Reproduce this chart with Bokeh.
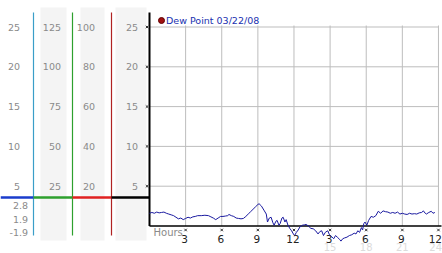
from bokeh.plotting import figure
from bokeh.models import Range1d
from bokeh.core.properties import value
from bokeh.embed import file_html
from bokeh.resources import INLINE

# ---------------- data ----------------
dew_hours = [0.0, 0.2, 0.4, 0.6, 0.8, 1.0, 1.2, 1.4, 1.6, 1.8, 2.0, 2.2, 2.4, 2.6, 2.8,
             3.0, 3.2, 3.4, 3.6, 3.8, 4.0, 4.3, 4.6, 4.9, 5.1, 5.3, 5.5, 5.7, 5.9, 6.1,
             6.3, 6.5, 6.6, 6.8, 7.0, 7.2, 7.4, 7.6, 7.8, 8.0, 8.2, 8.4, 8.6, 8.8, 9.0,
             9.1, 9.3, 9.5, 9.7, 9.8, 9.95, 10.1, 10.25, 10.35, 10.5, 10.6, 10.75, 10.85,
             11.0, 11.1, 11.25, 11.35, 11.5, 11.65, 11.8, 11.95, 12.05, 12.2, 12.35, 12.5,
             12.7, 12.9, 13.0, 13.2, 13.4, 13.6, 13.8, 14.0, 14.15, 14.3, 14.45, 14.6,
             14.8, 14.95, 15.1, 15.3, 15.45, 15.6, 15.8, 15.9, 16.05, 16.2, 16.4, 16.6,
             16.8, 17.0, 17.15, 17.3, 17.45, 17.6, 17.7, 17.8, 17.9, 18.05, 18.2, 18.4,
             18.6, 18.8, 19.0, 19.2, 19.4, 19.6, 19.8, 20.0, 20.2, 20.4, 20.6, 20.8, 21.0,
             21.2, 21.4, 21.6, 21.8, 22.0, 22.2, 22.4, 22.6, 22.75, 22.9, 23.0, 23.2,
             23.4, 23.55, 23.7]
dew_values = [1.6, 1.7, 1.6, 1.75, 1.65, 1.7, 1.75, 1.6, 1.5, 1.4, 1.3, 1.1, 0.9, 1.0, 0.8,
              0.95, 1.1, 1.0, 1.15, 1.2, 1.3, 1.3, 1.35, 1.3, 1.15, 1.0, 0.8, 1.0, 1.2, 1.2,
              1.25, 1.3, 1.45, 1.3, 1.2, 1.0, 0.95, 0.9, 0.95, 1.2, 1.5, 1.8, 2.1, 2.4, 2.7,
              2.8, 2.5, 2.0, 1.5, 0.5, 1.0, 1.1, 0.4, 0.1, 0.6, 0.7, 0.1, 0.3,
              1.0, 1.1, 0.5, 0.8, 0.1, -0.3, -0.6, -1.0, -1.2, -0.8, -0.5, -0.1,
              0.1, 0.15, 0.2, 0.0, -0.3, -0.35, -0.6, -1.0, -0.7, -0.6, -1.2, -0.8,
              -0.6, -1.1, -1.3, -1.6, -1.2, -1.4, -1.7, -1.9, -1.6, -1.5, -1.4, -1.2,
              -1.1, -0.9, -1.0, -0.6, -0.8, -0.2, -0.5, 0.3, 0.5, 0.1, 0.7, 1.2,
              1.1, 1.3, 1.85, 1.6, 1.9, 1.8, 1.75, 1.6, 1.7, 1.6, 1.75, 1.5, 1.6,
              1.5, 1.45, 1.6, 1.5, 1.55, 1.5, 1.65, 1.7, 1.9, 1.6, 1.5, 1.7,
              1.85, 1.6, 1.7]

grid_values = [25, 20, 15, 10, 5]
col1_labels = ["25", "20", "15", "10", "5"]
col2_labels = ["125", "100", "75", "50", "25"]
col3_labels = ["100", "80", "60", "40", "20"]
col4_labels = ["25", "20", "15", "10", "5"]
stat_labels = ["2.8", "1.9", "-1.9"]
hour_ticks = [3, 6, 9, 12, 15, 18, 21, 24]
hour_labels = ["3", "6", "9", "12", "3", "6", "9", "12"]
faint_ticks = [15, 18, 21, 24]
faint_labels = ["15", "18", "21", "24"]
legend_text = "Dew Point 03/22/08"

# ---------------- geometry helpers (pixel -> data) ----------------
W, H = 442, 253
X0PX, PXH = 149.0, 12.04
Y0PX, PXV = 225.5, 7.96


def dx(px):
    return (px - X0PX) / PXH


def dy(py):
    return (Y0PX - py) / PXV


p = figure(width=W, height=H, output_backend="svg", toolbar_location=None,
           x_range=Range1d(dx(0), dx(W)), y_range=Range1d(dy(H), dy(0)),
           x_axis_type=None, y_axis_type=None, min_border=0,
           outline_line_color=None, background_fill_color="white",
           border_fill_color="white")
p.grid.visible = False

FONT = value("DejaVu Sans")
GRAY = "#8a8a8a"

# gray column bands
band_l = [dx(40), dx(80), dx(115)]
band_r = [dx(66), dx(104), dx(146)]
p.quad(left=band_l, right=band_r, top=[dy(7)] * 3, bottom=[dy(240)] * 3,
       fill_color="#f4f4f4", line_color=None)

# grid
p.segment(x0=[0] * len(grid_values), x1=[24] * len(grid_values),
          y0=grid_values, y1=grid_values, line_color="#bdbdbd", line_width=1)
p.segment(x0=hour_ticks, x1=hour_ticks, y0=[dy(25)] * len(hour_ticks),
          y1=[0] * len(hour_ticks), line_color="#bdbdbd", line_width=1)

# coloured column rules
col_x = [dx(33), dx(72), dx(111)]
col_c = ["#3a9ec8", "#2ea02e", "#b02222"]
p.segment(x0=col_x, x1=col_x, y0=[dy(12)] * 3, y1=[dy(235)] * 3,
          line_color=col_c, line_width=1.2)
hx0 = [dx(0), dx(33), dx(72), dx(111)]
hx1 = [dx(33), dx(72), dx(111), dx(149)]
p.segment(x0=hx0, x1=hx1, y0=[dy(197)] * 4, y1=[dy(197)] * 4,
          line_color=["#1a3ccc", "#2ea02e", "#e02020", "#000000"], line_width=2.5)

# black axes
p.segment(x0=[0], x1=[0], y0=[dy(12)], y1=[dy(225.5)], line_color="black", line_width=2)
p.segment(x0=[0], x1=[dx(441)], y0=[0], y1=[0], line_color="black", line_width=1.5)

# data line
p.line(dew_hours, dew_values, line_color="#1a1aa0", line_width=1)

# tick markers
p.scatter(x=[dx(146.5)] * len(grid_values), y=grid_values, marker="x", size=3.5,
          line_color="#333333", line_width=1)
p.scatter(x=hour_ticks, y=[dy(229.5)] * len(hour_ticks), marker="x", size=3.5,
          line_color="#333333", line_width=1)

# left labels
n = len(grid_values)
p.text(x=[dx(19.5)] * n, y=grid_values, text=col1_labels, text_font=FONT,
       text_font_size="9.5px", text_color=GRAY, text_align="right", text_baseline="middle")
p.text(x=[dx(60.5)] * n, y=grid_values, text=col2_labels, text_font=FONT,
       text_font_size="9.5px", text_color=GRAY, text_align="right", text_baseline="middle")
p.text(x=[dx(94.5)] * n, y=grid_values, text=col3_labels, text_font=FONT,
       text_font_size="9.5px", text_color=GRAY, text_align="right", text_baseline="middle")
p.text(x=[dx(137.5)] * n, y=grid_values, text=col4_labels, text_font=FONT,
       text_font_size="9.5px", text_color=GRAY, text_align="right", text_baseline="middle")
p.text(x=[dx(27.5)] * 3, y=[dy(205), dy(219), dy(232)], text=stat_labels, text_font=FONT,
       text_font_size="9.5px", text_color=GRAY, text_align="right", text_baseline="middle")

# x labels (last one right-aligned so it stays inside the window)
p.text(x=[t - 0.08 for t in hour_ticks[:-1]], y=[dy(238.5)] * (len(hour_ticks) - 1),
       text=hour_labels[:-1], text_font=FONT, text_font_size="10.5px",
       text_color="#222222", text_align="center", text_baseline="middle")
p.text(x=[dx(441.5)], y=[dy(238.5)], text=hour_labels[-1:], text_font=FONT,
       text_font_size="10.5px", text_color="#222222", text_align="right",
       text_baseline="middle")
p.text(x=faint_ticks[:-1], y=[dy(246.5)] * (len(faint_ticks) - 1), text=faint_labels[:-1],
       text_font=FONT, text_font_size="10px", text_color="#dcdcdc",
       text_align="center", text_baseline="middle")
p.text(x=[dx(441.5)], y=[dy(246.5)], text=faint_labels[-1:],
       text_font=FONT, text_font_size="10px", text_color="#dcdcdc",
       text_align="right", text_baseline="middle")
p.text(x=[dx(153)], y=[dy(232)], text=["Hours"], text_font=FONT, text_font_size="10px",
       text_color=GRAY, text_align="left", text_baseline="middle")

# legend
p.scatter(x=[dx(161)], y=[dy(20)], marker="circle", size=6, fill_color="#a01010",
          line_color="#600000")
p.text(x=[dx(165.5)], y=[dy(20)], text=[legend_text], text_font=FONT, text_font_size="9.5px",
       text_color="#2030b0", text_align="left", text_baseline="middle")

open("out.html", "w").write(file_html(p, INLINE))
